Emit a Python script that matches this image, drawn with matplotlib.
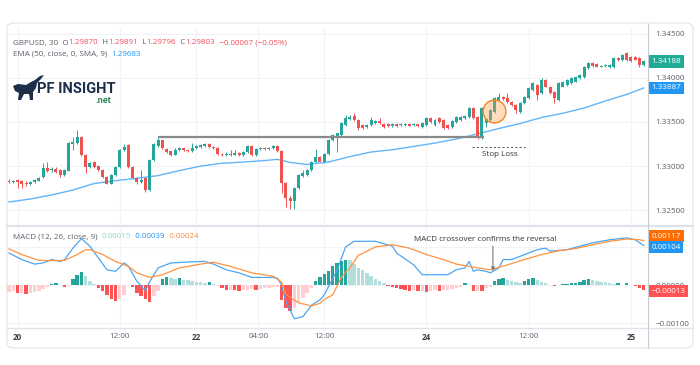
import matplotlib
matplotlib.use('Agg')
import matplotlib.pyplot as plt
from matplotlib.patches import FancyBboxPatch, Polygon
from matplotlib.lines import Line2D

plt.rcParams['font.family'] = ['Open Sans', 'DejaVu Sans']

# --- candles (30 min bars) ---
opens = [1.32830, 1.32818, 1.32840, 1.32830, 1.32810, 1.32800, 1.32815, 1.32835, 1.32870, 1.32980,
         1.32950, 1.32970, 1.32955, 1.32898, 1.32947, 1.33250, 1.33258, 1.33333, 1.33125, 1.32990,
         1.33040, 1.33000, 1.32960, 1.32880, 1.32800, 1.32900, 1.32990, 1.33182, 1.33240, 1.32990,
         1.32865, 1.32818, 1.32860, 1.32727, 1.33068, 1.33230, 1.33290, 1.33190, 1.33165, 1.33130,
         1.33180, 1.33200, 1.33185, 1.33170, 1.33200, 1.33215, 1.33230, 1.33250, 1.33215, 1.33210,
         1.33140, 1.33125, 1.33125, 1.33130, 1.33145, 1.33120, 1.33160, 1.33225, 1.33120, 1.33195,
         1.33205, 1.33190, 1.33200, 1.33225, 1.33170, 1.32803, 1.32640, 1.32600, 1.32750, 1.32890,
         1.32900, 1.32955, 1.33040, 1.33105, 1.33040, 1.33140, 1.33296, 1.33340, 1.33352, 1.33466,
         1.33530, 1.33565, 1.33523, 1.33466, 1.33440, 1.33466, 1.33490, 1.33515, 1.33475, 1.33475,
         1.33455, 1.33475, 1.33462, 1.33462, 1.33476, 1.33462, 1.33472, 1.33447, 1.33466, 1.33542,
         1.33466, 1.33542, 1.33523, 1.33466, 1.33447, 1.33504, 1.33523, 1.33542, 1.33555, 1.33663,
         1.33561, 1.33322, 1.33485, 1.33523, 1.33617, 1.33750, 1.33785, 1.33769, 1.33731, 1.33693,
         1.33617, 1.33712, 1.33769, 1.33864, 1.33921, 1.33826, 1.33977, 1.33902, 1.33845, 1.33750,
         1.33902, 1.33921, 1.33940, 1.33959, 1.33996, 1.34015, 1.34110, 1.34167, 1.34160, 1.34130,
         1.34135, 1.34125, 1.34129, 1.34231, 1.34205, 1.34280, 1.34240, 1.34235, 1.34224, 1.34150]
highs = [1.32850, 1.32845, 1.32855, 1.32845, 1.32825, 1.32830, 1.32850, 1.32870, 1.33035, 1.33040,
         1.32985, 1.32985, 1.32965, 1.32965, 1.33270, 1.33330, 1.33410, 1.33345, 1.33135, 1.33050,
         1.33055, 1.33010, 1.32970, 1.32890, 1.32910, 1.33000, 1.33190, 1.33250, 1.33250, 1.33000,
         1.32875, 1.32955, 1.32870, 1.33080, 1.33260, 1.33330, 1.33300, 1.33200, 1.33175, 1.33200,
         1.33215, 1.33215, 1.33195, 1.33260, 1.33240, 1.33250, 1.33265, 1.33260, 1.33225, 1.33220,
         1.33150, 1.33160, 1.33180, 1.33180, 1.33160, 1.33170, 1.33240, 1.33235, 1.33200, 1.33220,
         1.33215, 1.33215, 1.33240, 1.33240, 1.33180, 1.32815, 1.32660, 1.32760, 1.32910, 1.32960,
         1.32965, 1.33060, 1.33193, 1.33115, 1.33150, 1.33310, 1.33365, 1.33380, 1.33495, 1.33580,
         1.33580, 1.33600, 1.33530, 1.33475, 1.33480, 1.33555, 1.33525, 1.33548, 1.33485, 1.33485,
         1.33490, 1.33485, 1.33488, 1.33488, 1.33486, 1.33488, 1.33482, 1.33500, 1.33552, 1.33552,
         1.33533, 1.33560, 1.33533, 1.33476, 1.33520, 1.33565, 1.33571, 1.33580, 1.33673, 1.33673,
         1.33571, 1.33673, 1.33540, 1.33646, 1.33780, 1.33833, 1.33800, 1.33830, 1.33741, 1.33703,
         1.33722, 1.33798, 1.33893, 1.33950, 1.33931, 1.34000, 1.33987, 1.33912, 1.33855, 1.33950,
         1.33969, 1.33987, 1.34006, 1.34025, 1.34044, 1.34139, 1.34177, 1.34177, 1.34170, 1.34150,
         1.34155, 1.34160, 1.34241, 1.34241, 1.34272, 1.34300, 1.34250, 1.34245, 1.34234, 1.34200]
lows = [1.32805, 1.32805, 1.32750, 1.32750, 1.32770, 1.32785, 1.32805, 1.32825, 1.32860, 1.32935,
        1.32935, 1.32920, 1.32880, 1.32885, 1.32940, 1.33180, 1.33250, 1.33110, 1.32920, 1.32980,
        1.32980, 1.32940, 1.32860, 1.32790, 1.32790, 1.32890, 1.32980, 1.33170, 1.32980, 1.32850,
        1.32800, 1.32805, 1.32700, 1.32715, 1.33060, 1.33220, 1.33190, 1.33150, 1.33110, 1.33120,
        1.33170, 1.33170, 1.33160, 1.33160, 1.33190, 1.33205, 1.33220, 1.33205, 1.33190, 1.33125,
        1.33110, 1.33115, 1.33115, 1.33120, 1.33110, 1.33110, 1.33150, 1.33110, 1.33110, 1.33185,
        1.33180, 1.33180, 1.33190, 1.33160, 1.32693, 1.32534, 1.32507, 1.32515, 1.32740, 1.32880,
        1.32890, 1.32945, 1.33030, 1.33040, 1.33030, 1.33130, 1.33285, 1.33163, 1.33340, 1.33455,
        1.33520, 1.33510, 1.33409, 1.33420, 1.33430, 1.33455, 1.33480, 1.33480, 1.33435, 1.33440,
        1.33445, 1.33440, 1.33452, 1.33452, 1.33450, 1.33452, 1.33448, 1.33437, 1.33456, 1.33490,
        1.33456, 1.33494, 1.33418, 1.33418, 1.33437, 1.33494, 1.33513, 1.33532, 1.33545, 1.33532,
        1.33310, 1.33312, 1.33440, 1.33513, 1.33607, 1.33740, 1.33745, 1.33721, 1.33683, 1.33606,
        1.33607, 1.33702, 1.33759, 1.33854, 1.33750, 1.33816, 1.33892, 1.33816, 1.33712, 1.33740,
        1.33892, 1.33911, 1.33930, 1.33949, 1.33986, 1.34005, 1.34100, 1.34126, 1.34120, 1.34120,
        1.34125, 1.34115, 1.34119, 1.34195, 1.34195, 1.34195, 1.34187, 1.34200, 1.34125, 1.34140]
closes = [1.32818, 1.32835, 1.32815, 1.32800, 1.32790, 1.32820, 1.32840, 1.32860, 1.32975, 1.32947,
          1.32965, 1.32935, 1.32898, 1.32955, 1.33258, 1.33276, 1.33333, 1.33125, 1.32990, 1.33034,
          1.32990, 1.32955, 1.32875, 1.32800, 1.32900, 1.32990, 1.33182, 1.33220, 1.32990, 1.32865,
          1.32818, 1.32840, 1.32727, 1.33068, 1.33250, 1.33290, 1.33200, 1.33160, 1.33125, 1.33185,
          1.33200, 1.33180, 1.33170, 1.33205, 1.33225, 1.33235, 1.33250, 1.33215, 1.33200, 1.33140,
          1.33125, 1.33140, 1.33140, 1.33145, 1.33120, 1.33160, 1.33225, 1.33120, 1.33190, 1.33205,
          1.33190, 1.33205, 1.33225, 1.33170, 1.32803, 1.32636, 1.32600, 1.32750, 1.32900, 1.32920,
          1.32955, 1.33050, 1.33105, 1.33050, 1.33140, 1.33296, 1.33352, 1.33371, 1.33485, 1.33542,
          1.33561, 1.33523, 1.33435, 1.33435, 1.33470, 1.33523, 1.33515, 1.33490, 1.33447, 1.33450,
          1.33480, 1.33452, 1.33478, 1.33478, 1.33460, 1.33478, 1.33458, 1.33490, 1.33542, 1.33500,
          1.33523, 1.33504, 1.33428, 1.33428, 1.33510, 1.33555, 1.33561, 1.33570, 1.33663, 1.33542,
          1.33322, 1.33663, 1.33530, 1.33636, 1.33770, 1.33788, 1.33760, 1.33731, 1.33693, 1.33636,
          1.33712, 1.33788, 1.33883, 1.33940, 1.33807, 1.33977, 1.33902, 1.33826, 1.33769, 1.33940,
          1.33959, 1.33977, 1.33996, 1.34015, 1.34034, 1.34129, 1.34167, 1.34136, 1.34130, 1.34140,
          1.34145, 1.34150, 1.34231, 1.34205, 1.34262, 1.34205, 1.34197, 1.34210, 1.34148, 1.34188]

# EMA 50 (line vertices at bar index)
ema_idx = [0, 5, 10, 15, 20, 25, 30, 35, 40, 45, 50, 55, 60, 63, 66, 70, 75, 80, 85, 90,
           95, 100, 105, 110, 115, 120, 125, 130, 135, 140, 145, 149]
ema_vals = [1.32591, 1.32625, 1.32671, 1.32727, 1.32801, 1.32833, 1.32860, 1.32891, 1.32948, 1.32999,
            1.33031, 1.33045, 1.33062, 1.33076, 1.33040, 1.33017, 1.33045, 1.33106, 1.33159, 1.33185,
            1.33222, 1.33261, 1.33307, 1.33364, 1.33426, 1.33483, 1.33551, 1.33599, 1.33659, 1.33739,
            1.33813, 1.33887]

# MACD line / signal line
macd_idx = [0, 3, 6, 8, 10, 12, 13, 15, 17, 19, 21, 23, 25, 27, 28, 30, 32, 33, 35, 38,
            43, 46, 48, 51, 54, 57, 62, 63, 64, 65, 67, 69, 71, 73, 74, 75, 77, 79, 81, 86,
            90, 91, 95, 97, 103, 105, 107, 108, 109, 110, 112, 113, 115, 116, 118, 121, 124, 126, 127, 131,
            134, 137, 141, 145, 147, 149]
macd_vals = [0.00084, 0.00067, 0.00055, 0.00058, 0.00067, 0.00062, 0.00066, 0.00097, 0.00122, 0.00102,
             0.00071, 0.00040, 0.00036, 0.00058, 0.00050, 0.00010, -0.00015, 0.00008, 0.00045, 0.00058,
             0.00061, 0.00062, 0.00055, 0.00040, 0.00032, 0.00020, 0.00020, 0.00018, 0.00000, -0.00044,
             -0.00089, -0.00083, -0.00053, -0.00039, -0.00026, -0.00004, 0.00039, 0.00100, 0.00115, 0.00115,
             0.00102, 0.00084, 0.00053, 0.00027, 0.00027, 0.00040, 0.00045, 0.00062, 0.00036, 0.00040,
             0.00036, 0.00032, 0.00045, 0.00067, 0.00067, 0.00080, 0.00093, 0.00097, 0.00089, 0.00093,
             0.00102, 0.00111, 0.00119, 0.00124, 0.00119, 0.00104]
sig_idx = [0, 3, 7, 10, 13, 16, 18, 19, 22, 25, 28, 30, 33, 36, 40, 45, 48, 52, 57, 62,
           64, 65, 68, 71, 73, 74, 76, 78, 80, 82, 86, 90, 94, 98, 102, 105, 109, 113, 117, 121,
           125, 129, 133, 137, 141, 145, 148, 149]
sig_vals = [0.00095, 0.00080, 0.00065, 0.00064, 0.00065, 0.00080, 0.00093, 0.00093, 0.00080, 0.00062,
            0.00049, 0.00032, 0.00020, 0.00027, 0.00045, 0.00055, 0.00060, 0.00049, 0.00032, 0.00023,
            0.00008, -0.00025, -0.00047, -0.00055, -0.00048, -0.00038, -0.00026, 0.00020, 0.00045, 0.00078,
            0.00100, 0.00106, 0.00097, 0.00080, 0.00067, 0.00055, 0.00047, 0.00040, 0.00053, 0.00067,
            0.00080, 0.00090, 0.00096, 0.00106, 0.00115, 0.00121, 0.00119, 0.00117]

# MACD histogram, one per bar
hist = [-0.00018, -0.00017, -0.00021, -0.00021, -0.00024, -0.00021, -0.00018, -0.00015, -0.00011, -0.00006,
        0.00003, 0.00005, 0.00001, -0.00004, -0.00003, 0.00017, 0.00027, 0.00034, 0.00025, 0.00010,
        0.00003, -0.00008, -0.00017, -0.00025, -0.00036, -0.00043, -0.00036, -0.00025, 0.00001, -0.00006,
        -0.00021, -0.00030, -0.00036, -0.00045, -0.00030, -0.00017, 0.00017, 0.00020, 0.00018, 0.00017,
        0.00018, 0.00014, 0.00012, 0.00010, 0.00008, 0.00007, 0.00005, 0.00007, 0.00003, -0.00001,
        -0.00008, -0.00012, -0.00012, -0.00014, -0.00015, -0.00014, -0.00013, -0.00010, -0.00013, -0.00010,
        -0.00008, -0.00008, -0.00006, -0.00005, -0.00039, -0.00061, -0.00068, -0.00061, -0.00047, -0.00034,
        -0.00021, -0.00008, 0.00010, 0.00020, 0.00030, 0.00038, 0.00049, 0.00058, 0.00062, 0.00065,
        0.00065, 0.00055, 0.00046, 0.00040, 0.00032, 0.00023, 0.00017, 0.00010, 0.00005, -0.00003,
        -0.00006, -0.00008, -0.00010, -0.00012, -0.00015, -0.00012, -0.00017, -0.00016, -0.00018, -0.00015,
        -0.00013, -0.00015, -0.00014, -0.00012, -0.00010, -0.00008, -0.00006, 0.00004, -0.00001, -0.00017,
        -0.00015, -0.00017, -0.00008, -0.00004, 0.00010, 0.00016, 0.00018, 0.00014, 0.00010, 0.00007,
        0.00005, 0.00010, 0.00015, 0.00018, 0.00012, 0.00007, 0.00004, 0.00001, -0.00003, 0.00001,
        0.00002, 0.00003, 0.00005, 0.00006, 0.00009, 0.00012, 0.00016, 0.00014, 0.00011, 0.00009,
        0.00007, 0.00005, 0.00003, 0.00005, 0.00001, 0.00006, 0.00001, -0.00002, -0.00007, -0.00013]

price_ticks = [1.325, 1.330, 1.335, 1.340, 1.345]
time_pos = [2, 26, 44, 58.5, 74, 98, 122, 146]
time_labels = ['20', '12:00', '22', '04:00', '12:00', '24', '12:00', '25']
resistance = 1.33326
stop_loss = 1.33213

W, H = 700, 365
UP, DOWN = '#26a69a', '#ef5350'
GREY = '#5d606b'
FS = 5.8


def rect(x0, y0, x1, y1):
    return [x0 / W, 1 - y1 / H, (x1 - x0) / W, (y1 - y0) / H]


def fx(x):
    return x / W


def fy(y):
    return 1 - y / H


def fmt(v):
    return f'{v:.5f}'.replace('-', '\u2212')


fig = plt.figure(figsize=(7, 3.65), dpi=100)
fig.add_artist(FancyBboxPatch((fx(7), fy(348)), 686 / W, 325 / H,
                              boxstyle='round,pad=0,rounding_size=0.012', transform=fig.transFigure,
                              fc='white', ec='#e4e4e4', lw=0.8, zorder=-1))
fig.add_artist(Line2D([fx(7), fx(693)], [fy(226), fy(226)], color='#e0e3eb', lw=1.6))
fig.add_artist(Line2D([fx(7), fx(693)], [fy(328), fy(328)], color='#e0e3eb', lw=1.0))
fig.add_artist(Line2D([fx(648), fx(648)], [fy(24), fy(348)], color='#c8cbd3', lw=0.8))

ax1 = fig.add_axes(rect(7, 28, 648, 224))
ax2 = fig.add_axes(rect(7, 228, 648, 327))
for ax in (ax1, ax2):
    ax.set_facecolor('none')
    for s in ax.spines.values():
        s.set_visible(False)
    ax.set_xlim(-0.47, 150.0)
    ax.set_xticks(time_pos)
    ax.grid(True, color='#f0f3fa', lw=0.8)
    ax.set_axisbelow(True)
    ax.yaxis.tick_right()
    ax.tick_params(axis='y', length=0, pad=5.5, labelsize=FS, labelcolor=GREY)

# price pane
xs = list(range(len(closes)))
cols = [UP if c >= o else DOWN for o, c in zip(opens, closes)]
ax1.vlines(xs, lows, highs, colors=cols, lw=0.7, zorder=2)
ax1.bar(xs, [abs(c - o) for o, c in zip(opens, closes)], bottom=[min(o, c) for o, c in zip(opens, closes)],
        width=0.7, color=cols, zorder=3)
ax1.plot(ema_idx, ema_vals, color='#64b5f6', lw=1.0, zorder=2)
ax1.hlines(resistance, 35, 111.6, color='#8a8a8a', lw=1.6, zorder=4)
ax1.hlines(stop_loss, 108.7, 121.1, color='#555555', lw=0.7, linestyles=(0, (2.2, 2.2)))
ax1.text(115.3, 1.33125, 'Stop Loss', ha='center', va='center', fontsize=FS, color='#333333')
ax1.scatter([113.8], [1.33628], s=270, facecolor=(1.0, 0.6, 0.3, 0.35), edgecolor='#f5831f', lw=1.0, zorder=5)
ax1.set_ylim(1.32341, 1.34568)
ax1.set_yticks(price_ticks)
ax1.set_yticklabels([fmt(v) for v in price_ticks])
ax1.tick_params(axis='x', length=0, labelbottom=False)


def axis_tag(ax, y, color, dy=0):
    ax.annotate(fmt(y), xy=(1.0, y), xycoords=ax.get_yaxis_transform(), xytext=(2.5, dy),
                textcoords='offset points', ha='left', va='center', fontsize=FS, color='white',
                bbox=dict(boxstyle='square,pad=0.33', fc=color, ec='none'), annotation_clip=False, zorder=10)


axis_tag(ax1, closes[-1], '#22ab94')
axis_tag(ax1, ema_vals[-1], '#2196f3')

# MACD pane
hcols = []
for k, v in enumerate(hist):
    prev = hist[k - 1] if k else v
    if v >= 0:
        hcols.append('#26a69a' if v > prev else '#b2dfdb')
    else:
        hcols.append('#ff5252' if v < prev else '#ffcdd2')
ax2.bar(xs, hist, width=0.8, color=hcols, zorder=2)
ax2.plot(macd_idx, macd_vals, color='#4ea5f0', lw=0.9, zorder=3)
ax2.plot(sig_idx, sig_vals, color='#ff9340', lw=0.9, zorder=3)
ax2.set_ylim(-0.001105, 0.0015)
ax2.set_yticks([0.001, 0.0, -0.001])
ax2.set_yticklabels(['', fmt(0.0), fmt(-0.001)])
ax2.set_xticklabels(time_labels)
ax2.tick_params(axis='x', length=0, pad=4, labelsize=FS, labelcolor=GREY)
for lab in ax2.get_xticklabels():
    if ':' not in lab.get_text():
        lab.set_fontweight('bold')
        lab.set_color('#3a3d45')
ax2.text(111.7, 0.00121, 'MACD crossover confirms the reversal', ha='center', va='center',
         fontsize=FS, color='#333333')
ax2.annotate('', xy=(113.6, 0.00037), xytext=(113.6, 0.00102),
             arrowprops=dict(arrowstyle='-|>', color='#7a7a7a', lw=0.8, mutation_scale=5, shrinkA=0, shrinkB=0))
axis_tag(ax2, sig_vals[-1], '#ff6d00', dy=3.2)
axis_tag(ax2, macd_vals[-1], '#2196f3', dy=-1.2)
axis_tag(ax2, hist[-1], '#ff5252', dy=-1.0)

# header texts
renderer = fig.canvas.get_renderer()


def pieces(x, y, parts, size=FS):
    for s, c in parts:
        t = fig.text(fx(x), fy(y), s, color=c, fontsize=size, ha='left', va='center')
        x += t.get_window_extent(renderer).width


RED = '#f0505a'
pieces(13, 43, [('GBPUSD, 30  O', GREY), ('1.29870', RED), ('  H', GREY), ('1.29891', RED),
                ('  L', GREY), ('1.29796', RED), ('  C', GREY), ('1.29803', RED),
                ('  \u22120.00067 (\u22120.05%)', RED)])
pieces(13, 54, [('EMA (50, close, 0, SMA, 9)  ', GREY), ('1.29683', '#2196f3')])
pieces(13, 237, [('MACD (12, 26, close, 9)  ', GREY), ('0.00015', '#8fd6c9'), ('  0.00039', '#2196f3'),
                 ('  0.00024', '#ff8a3d')])

# logo
bull = [(13, 86), (18, 84), (26, 85), (31, 82), (35, 80), (40, 76), (44, 75), (41, 79), (37, 83),
        (36, 88), (33, 92), (33, 100), (30, 100), (29, 94), (24, 94), (21, 100), (18, 100), (19, 93),
        (15, 91)]
fig.add_artist(Polygon([(fx(a), fy(b)) for a, b in bull], closed=True, transform=fig.transFigure,
                       fc='#1c2e4a', ec='none'))
fig.text(fx(37), fy(89), 'PF INSIGHT', fontsize=10.6, fontweight='bold', color='#1c2e4a',
         family=['Roboto', 'DejaVu Sans'], ha='left', va='center')
fig.text(fx(95), fy(100.5), '.net', fontsize=6.5, fontweight='bold', color='#2e8b57',
         family=['Roboto', 'DejaVu Sans'], ha='left', va='center')

fig.savefig('out.png', dpi=100, facecolor='white')
